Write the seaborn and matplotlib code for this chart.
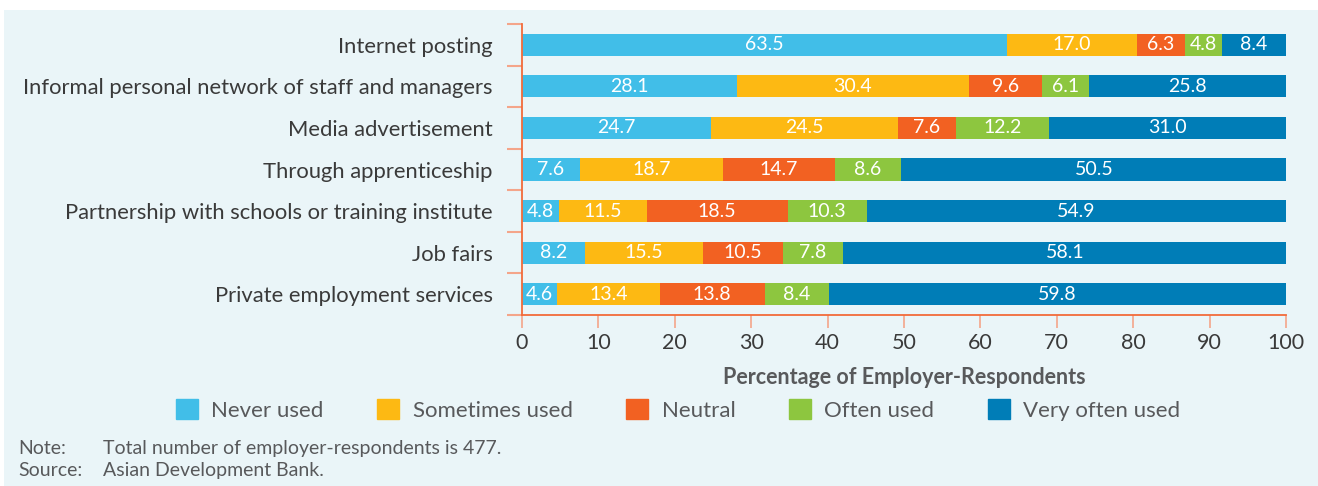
import matplotlib
matplotlib.use("Agg")
import matplotlib.pyplot as plt
import matplotlib.patches as mpatches
import seaborn as sns
import pandas as pd
import numpy as np

# data
categories = [
    "Internet posting",
    "Informal personal network of staff and managers",
    "Media advertisement",
    "Through apprenticeship",
    "Partnership with schools or training institute",
    "Job fairs",
    "Private employment services",
]
never_used = [63.5, 28.1, 24.7, 7.6, 4.8, 8.2, 4.6]
sometimes_used = [17.0, 30.4, 24.5, 18.7, 11.5, 15.5, 13.4]
neutral = [6.3, 9.6, 7.6, 14.7, 18.5, 10.5, 13.8]
often_used = [4.8, 6.1, 12.2, 8.6, 10.3, 7.8, 8.4]
very_often_used = [8.4, 25.8, 31.0, 50.5, 54.9, 58.1, 59.8]
series_names = ["Never used", "Sometimes used", "Neutral", "Often used", "Very often used"]
xticks = [0, 10, 20, 30, 40, 50, 60, 70, 80, 90, 100]

colors = ["#41BEE8", "#FDB913", "#F26122", "#8DC63F", "#007DB7"]
bg = "#EAF5F8"
axis_col = "#F26B3A"
text_col = "#3a3a3a"
grey = "#58595B"

df = pd.DataFrame({
    "category": categories,
    series_names[0]: never_used,
    series_names[1]: sometimes_used,
    series_names[2]: neutral,
    series_names[3]: often_used,
    series_names[4]: very_often_used,
})
cum = df[series_names].cumsum(axis=1)

sns.set_style("white")
plt.rcParams["font.family"] = ["Lato", "DejaVu Sans"]

fig = plt.figure(figsize=(13.18, 4.86), dpi=100, facecolor="white")
fig.patches.append(mpatches.Rectangle((4 / 1318, 0), 1, 1 - 10 / 486,
                                      transform=fig.transFigure, facecolor=bg,
                                      edgecolor="none", zorder=-10))
ax = fig.add_axes([522 / 1318, 1 - 315 / 486, (1286 - 522) / 1318, (315 - 24) / 486])
ax.set_facecolor("none")

# stacked bars: draw cumulative totals from the largest down
for name, col in reversed(list(zip(series_names, colors))):
    sns.barplot(x=cum[name], y=df["category"], color=col, orient="h",
                width=0.53, ax=ax, saturation=1, linewidth=0)

# value labels centred in each segment
for i in range(len(categories)):
    left = 0
    for name in series_names:
        v = df.loc[i, name]
        ax.text(left + v / 2, i, f"{v:.1f}", ha="center", va="center",
                color="white", fontsize=14)
        left += v

ax.set_xlim(0, 100)
ax.set_ylim(6.5, -0.5)
ax.set_xticks(xticks)
ax.set_xticklabels([str(t) for t in xticks], fontsize=15.5, color=text_col)
ax.set_yticks(range(len(categories)))
ax.set_yticklabels(categories, fontsize=15.8, color=text_col)
ax.set_yticks(np.arange(-0.5, 7, 1), minor=True)
ax.tick_params(axis="y", which="major", left=True, length=0, pad=21)
ax.tick_params(axis="y", which="minor", left=True, length=11, color="#F4A58A", width=1.5)
ax.tick_params(axis="x", which="major", bottom=True, length=9, color="#F4A58A", width=1.2,
               direction="out", pad=4)
ax.set_xlabel("Percentage of Employer-Respondents", fontsize=15.5,
              fontweight="bold", color=grey, labelpad=10)
ax.set_ylabel("")

for s in ["top", "right"]:
    ax.spines[s].set_visible(False)
for s in ["left", "bottom"]:
    ax.spines[s].set_color(axis_col)
    ax.spines[s].set_linewidth(1.3)

handles = [mpatches.Patch(color=c, label=n) for n, c in zip(series_names, colors)]
fig.legend(handles=handles, loc="center", bbox_to_anchor=(678 / 1318, 1 - 410 / 486),
           ncol=5, frameon=False, fontsize=16, labelcolor=grey,
           handlelength=1.0, handleheight=1.0, handletextpad=0.6, columnspacing=2.4)

fig.text(18 / 1318, 1 - 448 / 486, "Note:", fontsize=14, color=grey, va="center")
fig.text(103 / 1318, 1 - 448 / 486, "Total number of employer-respondents is 477.",
         fontsize=14, color=grey, va="center")
fig.text(18 / 1318, 1 - 470 / 486, "Source:", fontsize=14, color=grey, va="center")
fig.text(103 / 1318, 1 - 470 / 486, "Asian Development Bank.",
         fontsize=14, color=grey, va="center")

fig.savefig("out.png", dpi=100, facecolor="white")
